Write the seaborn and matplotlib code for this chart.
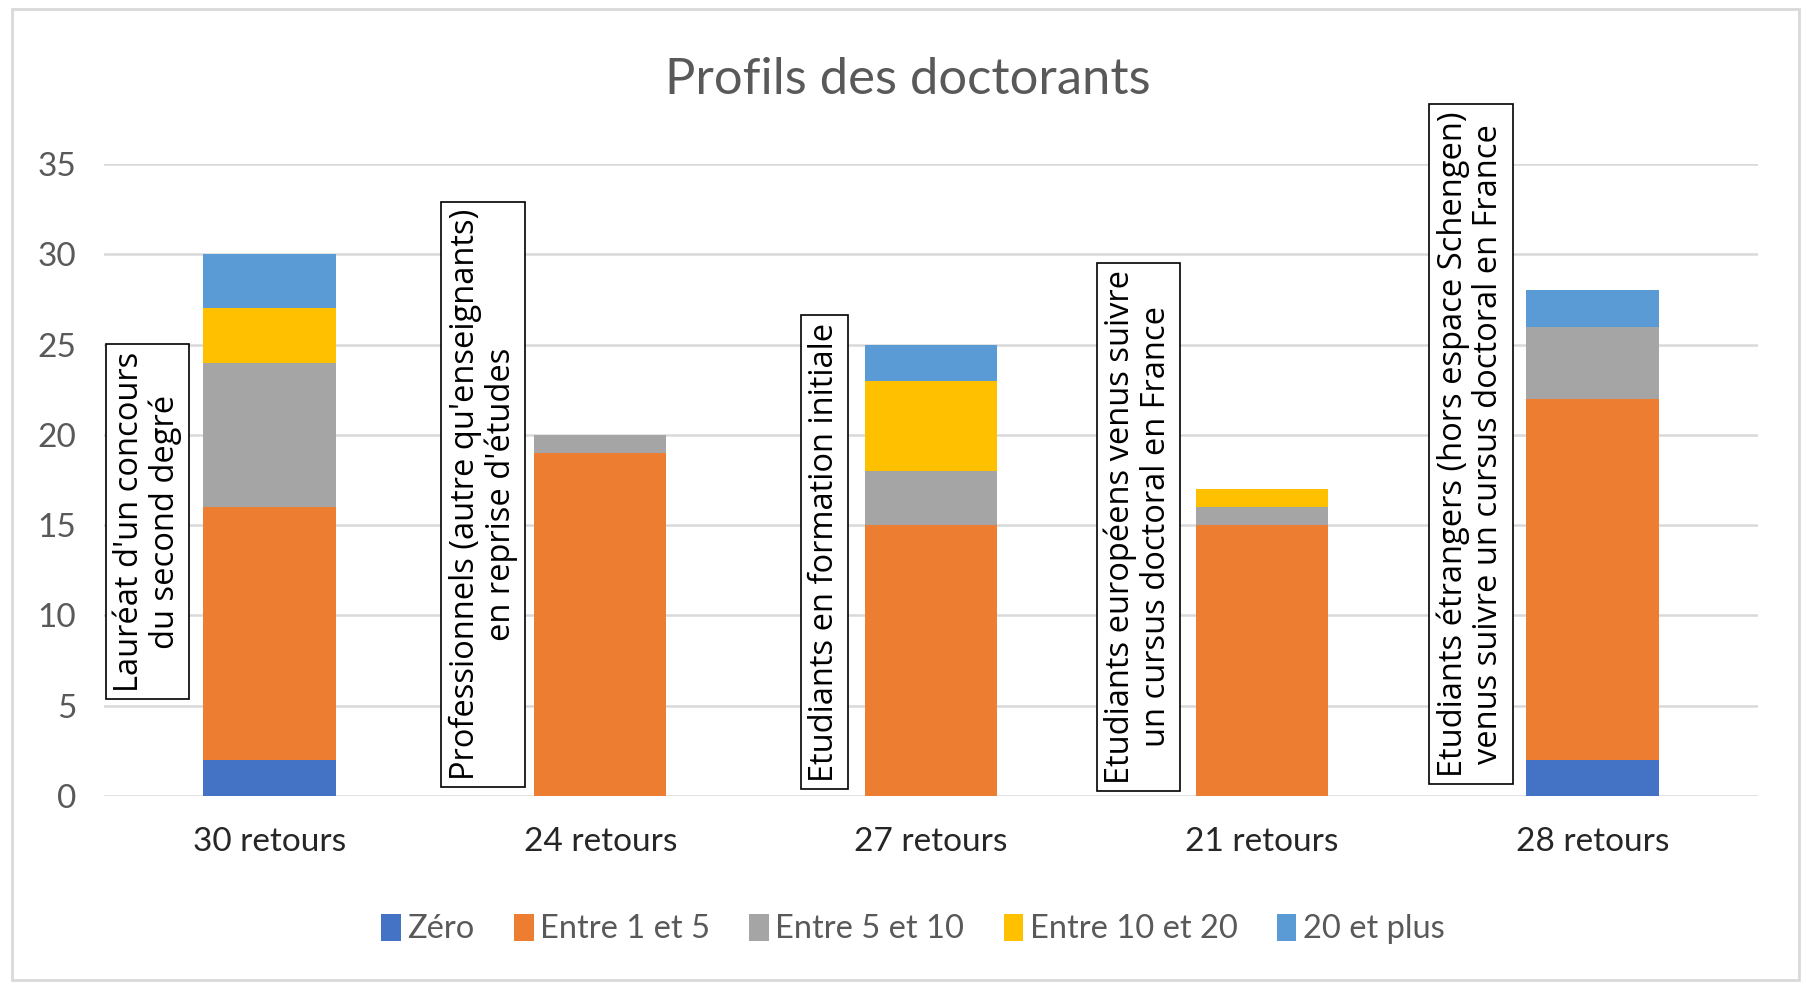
#!/usr/bin/env python3
# -*- coding: utf-8 -*-
"""
Profils des doctorants - histogramme empilé
"""

import matplotlib
matplotlib.use('Agg')
import matplotlib.pyplot as plt
from matplotlib.patches import Patch, Rectangle
import seaborn as sns
import pandas as pd
import numpy as np

# données
groupes = ['30 retours', '24 retours', '27 retours', '21 retours', '28 retours']
profils = [
    "Lauréat d'un concours\ndu second degré",
    "Professionnels (autre qu'enseignants)\nen reprise d'études",
    "Etudiants en formation initiale",
    "Etudiants européens venus suivre\nun cursus doctoral en France",
    "Etudiants étrangers (hors espace Schengen)\nvenus suivre un cursus doctoral en France",
]
series = ['Zéro', 'Entre 1 et 5', 'Entre 5 et 10', 'Entre 10 et 20', '20 et plus']
zero = [2, 0, 0, 0, 2]
entre_1_5 = [14, 19, 15, 15, 20]
entre_5_10 = [8, 1, 3, 1, 4]
entre_10_20 = [3, 0, 5, 1, 0]
plus_20 = [3, 0, 2, 0, 2]
couleurs = ['#4472C4', '#ED7D31', '#A5A5A5', '#FFC000', '#5B9BD5']

# position des étiquettes encadrées (décalage x, centre y)
decal_x = [-0.368, -0.354, -0.321, -0.373, -0.368]
centre_y = [15.2, 16.7, 13.5, 14.9, 19.5]

gris_txt = '#595959'
sns.set_style('white')
plt.rcParams['font.family'] = ['Lato', 'DejaVu Sans']

df = pd.DataFrame({'groupe': groupes, 'Zéro': zero, 'Entre 1 et 5': entre_1_5,
                   'Entre 5 et 10': entre_5_10, 'Entre 10 et 20': entre_10_20,
                   '20 et plus': plus_20})
cumul = df[series].cumsum(axis=1)

fig = plt.figure(figsize=(18.08, 9.84), dpi=100)
ax = fig.add_axes([104 / 1808, 1 - 796 / 984, (1758 - 104) / 1808, (796 - 164) / 984])

# barres empilées : on trace les cumuls du haut vers le bas
for s, c in reversed(list(zip(series, couleurs))):
    sns.barplot(x=df['groupe'], y=cumul[s], color=c, width=0.4, ax=ax,
                saturation=1, zorder=3, linewidth=0)

ax.set_ylim(0, 35)
ax.set_xlim(-0.5, len(groupes) - 0.5)
ax.set_yticks(np.arange(0, 36, 5))
ax.yaxis.grid(True, color='#D9D9D9', linewidth=1.8, zorder=0)
ax.set_axisbelow(True)
for sp in ax.spines.values():
    sp.set_visible(False)
ax.tick_params(axis='both', length=0, labelsize=24, colors=gris_txt)
ax.tick_params(axis='y', pad=20)
ax.tick_params(axis='x', pad=22)
for lab in ax.get_xticklabels():
    lab.set_color('#262626')
ax.set_xlabel('')
ax.set_ylabel('')

# étiquettes verticales encadrées
for i, txt in enumerate(profils):
    ax.text(i + decal_x[i], centre_y[i], txt, rotation=90, ha='center', va='center',
            multialignment='center', fontsize=23.5, family='Open Sans', color='black',
            linespacing=1.1, zorder=5, clip_on=False,
            bbox=dict(boxstyle='square,pad=0.22', facecolor='white', edgecolor='black', linewidth=1.2))

# titre
fig.text(0.502, 1 - 80 / 984, 'Profils des doctorants', ha='center', va='center',
         fontsize=36.5, color=gris_txt)

# légende
poignees = [Patch(facecolor=c, edgecolor='none', label=s) for s, c in zip(series, couleurs)]
fig.legend(handles=poignees, loc='center', bbox_to_anchor=(0.505, 1 - 929 / 984), ncol=5,
           frameon=False, fontsize=23.5, labelcolor=gris_txt, handlelength=0.6, handleheight=0.9,
           handletextpad=0.2, columnspacing=1.2)

# cadre extérieur
fig.patches.append(Rectangle((12 / 1808, 4 / 984), 1787 / 1808, 971 / 984, transform=fig.transFigure,
                             fill=False, edgecolor='#D9D9D9', linewidth=2))

plt.savefig('out.png', dpi=100)
plt.close()
